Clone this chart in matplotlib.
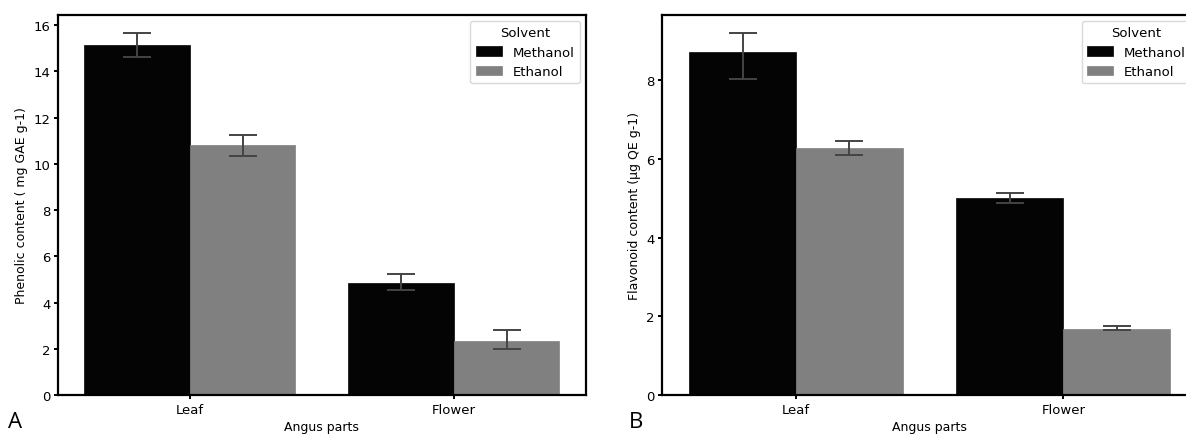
import numpy as np
import matplotlib
matplotlib.use("Agg")
import matplotlib.pyplot as plt

parts = ["Leaf", "Flower"]
solvents = ["Methanol", "Ethanol"]
colors = ["#040404", "#808080"]

# panel A: phenolic content (mean, lower CI, upper CI)
phen_mean = {"Methanol": [15.15, 4.83], "Ethanol": [10.80, 2.35]}
phen_lo = {"Methanol": [14.63, 4.54], "Ethanol": [10.32, 1.98]}
phen_hi = {"Methanol": [15.65, 5.22], "Ethanol": [11.23, 2.81]}

# panel B: flavonoid content
flav_mean = {"Methanol": [8.70, 5.01], "Ethanol": [6.27, 1.68]}
flav_lo = {"Methanol": [8.03, 4.88], "Ethanol": [6.10, 1.64]}
flav_hi = {"Methanol": [9.19, 5.12], "Ethanol": [6.45, 1.75]}

W, H = 1186, 435
fig = plt.figure(figsize=(W / 100, H / 100), dpi=100)
plt.rcParams["font.family"] = ["DejaVu Sans"]


def draw(ax, mean, lo, hi, ylabel, ylim, yticks):
    x = np.arange(len(parts))
    width = 0.4
    for i, s in enumerate(solvents):
        pos = x - width / 2 + i * width
        m = np.array(mean[s])
        err = np.array([m - np.array(lo[s]), np.array(hi[s]) - m])
        ax.bar(pos, m, width, color=colors[i], label=s, edgecolor=colors[i], linewidth=0.5)
        ax.errorbar(pos, m, yerr=err, fmt="none", ecolor="#444444",
                    elinewidth=1.4, capsize=10, capthick=1.4)
    ax.set_xticks(x)
    ax.set_xticklabels(parts, fontsize=9.5)
    ax.set_xlim(-0.5, 1.5)
    ax.set_ylim(*ylim)
    ax.set_yticks(yticks)
    ax.tick_params(axis="y", labelsize=9.5, length=3, width=1.4, pad=2.5)
    ax.tick_params(axis="x", length=3, width=1.4, pad=2.5)
    for sp in ax.spines.values():
        sp.set_linewidth(1.6)
    ax.set_xlabel("Angus parts", fontsize=9, labelpad=3)
    ax.set_ylabel(ylabel, fontsize=9)
    leg = ax.legend(title="Solvent", loc="upper right", fontsize=9.5,
                    title_fontsize=9.5, handlelength=2.0, handleheight=0.7,
                    borderaxespad=0.45)
    leg.get_frame().set_edgecolor("#d0d0d0")


axA = fig.add_axes([58 / W, 1 - 396 / H, 527.7 / W, 380.3 / H])
draw(axA, phen_mean, phen_lo, phen_hi, "Phenolic content ( mg GAE g-1)",
     (0, 16.45), [0, 2, 4, 6, 8, 10, 12, 14, 16])

axB = fig.add_axes([662.3 / W, 1 - 396 / H, 534.7 / W, 380.3 / H])
draw(axB, flav_mean, flav_lo, flav_hi, "Flavonoid content (µg QE g-1)",
     (0, 9.66), [0, 2, 4, 6, 8])

fig.text(8 / W, 1 - 428 / H, "A", fontsize=16, family="Open Sans", va="baseline")
fig.text(629 / W, 1 - 428 / H, "B", fontsize=16, family="Open Sans", va="baseline")

fig.savefig("out.png", dpi=100)
